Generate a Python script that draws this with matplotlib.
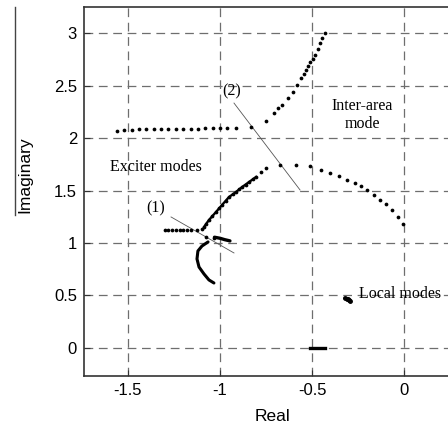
import matplotlib
matplotlib.use("Agg")
import matplotlib.pyplot as plt
from matplotlib.lines import Line2D

# eigenvalue loci (real, imaginary parts)
# exciter mode branch (1)
exc_re = [-1.300, -1.280, -1.260, -1.240, -1.220, -1.200, -1.180, -1.160, -1.125, -1.098,
          -1.087, -1.074, -1.060, -1.041, -1.022, -1.005, -0.989, -0.970, -0.951, -0.932,
          -0.913, -0.896, -0.880, -0.861, -0.842, -0.823, -0.804, -0.777, -0.750,
          -0.674, -0.587, -0.511, -0.451, -0.402, -0.353, -0.310, -0.266, -0.234,
          -0.201, -0.163, -0.130, -0.098, -0.065, -0.033, -0.005]
exc_im = [1.124, 1.124, 1.124, 1.124, 1.124, 1.124, 1.124, 1.124, 1.127, 1.133,
          1.152, 1.185, 1.219, 1.257, 1.295, 1.329, 1.362, 1.400, 1.438, 1.462,
          1.486, 1.510, 1.533, 1.557, 1.581, 1.605, 1.629, 1.672, 1.714,
          1.743, 1.743, 1.733, 1.695, 1.667, 1.638, 1.600, 1.571, 1.543,
          1.505, 1.457, 1.410, 1.371, 1.314, 1.248, 1.181]

# inter-area mode branch (2)
ia_re = [-1.560, -1.520, -1.480, -1.440, -1.400, -1.360, -1.320, -1.280, -1.240, -1.200,
         -1.160, -1.120, -1.080, -1.040, -1.000, -0.960, -0.913, -0.832, -0.750, -0.707,
         -0.685, -0.663, -0.630, -0.603, -0.582, -0.560, -0.544, -0.533, -0.522, -0.511,
         -0.497, -0.484, -0.470, -0.457, -0.443, -0.429]
ia_im = [2.070, 2.078, 2.080, 2.082, 2.083, 2.084, 2.085, 2.086, 2.087, 2.088,
         2.089, 2.090, 2.091, 2.092, 2.093, 2.094, 2.095, 2.105, 2.162, 2.238,
         2.286, 2.314, 2.381, 2.438, 2.505, 2.571, 2.610, 2.648, 2.686, 2.724,
         2.757, 2.790, 2.848, 2.905, 2.952, 3.000]

# modes around Im = 1
near_re = [-1.076, -1.033]
near_im = [1.057, 1.048]
seg_re = [-1.030, -1.000, -0.975, -0.946]
seg_im = [1.055, 1.045, 1.032, 1.020]
arc_re = [-1.065, -1.098, -1.120, -1.125, -1.114, -1.087, -1.060, -1.033]
arc_im = [1.010, 0.971, 0.924, 0.848, 0.771, 0.705, 0.648, 0.619]

# local modes
loc_re = [-0.322, -0.312, -0.303, -0.297, -0.295]
loc_im = [0.475, 0.470, 0.468, 0.460, 0.445]
zero_re = [-0.510, -0.430]
zero_im = [0.0, 0.0]

xticks = [-1.5, -1, -0.5, 0]
xticklabels = ["-1.5", "-1", "-0.5", "0"]
yticks = [0, 0.5, 1, 1.5, 2, 2.5, 3]
yticklabels = ["0", "0.5", "1", "1.5", "2", "2.5", "3"]

sans = "Liberation Sans"
serif = "Liberation Serif"

fig = plt.figure(figsize=(4.48, 4.28), dpi=100)
ax = fig.add_axes([84 / 448, 52 / 428, 1.03 - 84 / 448, 369 / 428])

grid_kw = dict(color="#6e6e6e", lw=0.9, dashes=(7, 4.5), zorder=1)
for x in xticks:
    ax.axvline(x, **grid_kw)
for y in yticks:
    ax.axhline(y, **grid_kw)

dot_kw = dict(ls="none", marker="o", ms=2.7, color="black", mew=0, zorder=3)
ax.plot(exc_re[10:27], exc_im[10:27], color="black", lw=1.7, zorder=3)
ax.plot(exc_re, exc_im, **dot_kw)
ax.plot(ia_re, ia_im, **dot_kw)
ax.plot(near_re, near_im, **dot_kw)
ax.plot(seg_re, seg_im, color="black", lw=2.4, solid_capstyle="round", zorder=3)
ax.plot(arc_re, arc_im, color="black", lw=2.2, solid_capstyle="round", zorder=3)
ax.plot(loc_re, loc_im, color="black", lw=1.8, marker="o", ms=2.5, zorder=3)
ax.plot(zero_re, zero_im, color="black", lw=2.4, zorder=3)

# pointer lines for the labelled loci
ax.plot([-1.266, -0.924], [1.248, 0.905], color="#555555", lw=0.6, zorder=2)
ax.plot([-0.924, -0.565], [2.333, 1.505], color="#555555", lw=0.6, zorder=2)

txt_kw = dict(family=serif, fontsize=11.5, color="black", zorder=4)
ax.text(-1.348, 1.724, "Exciter modes", ha="center", va="center", **txt_kw)
ax.text(-0.228, 2.22, "Inter-area\nmode", ha="center", va="center",
        linespacing=1.15, **txt_kw)
ax.text(-0.242, 0.512, "Local modes", ha="left", va="center", **txt_kw)
ax.text(-1.348, 1.333, "(1)", ha="center", va="center", **txt_kw)
ax.text(-0.935, 2.44, "(2)", ha="center", va="center", **txt_kw)

ax.set_xlim(-1.739, 0.312)
ax.set_ylim(-0.267, 3.248)
ax.set_xticks(xticks)
ax.set_xticklabels(xticklabels, family=sans, fontsize=12)
ax.set_yticks(yticks)
ax.set_yticklabels(yticklabels, family=sans, fontsize=12)
ax.tick_params(direction="in", length=4, width=0.8, colors="#333333", pad=5)
ax.tick_params(labelcolor="black")
ax.spines["right"].set_visible(False)
for s in ["left", "top", "bottom"]:
    ax.spines[s].set_linewidth(1.2)
    ax.spines[s].set_color("#333333")

ax.set_xlabel("Real", family=sans, fontsize=12.5, labelpad=8)
fig.text(25 / 448, 1 - 175 / 428, "Imaginary", family=sans, fontsize=12.5,
         rotation=90, ha="center", va="center")
fig.add_artist(Line2D([15 / 448, 15 / 448], [1 - 7 / 428, 1 - 215 / 428],
                      transform=fig.transFigure, color="#444444", lw=1.0))

fig.savefig("out.png", dpi=100)
